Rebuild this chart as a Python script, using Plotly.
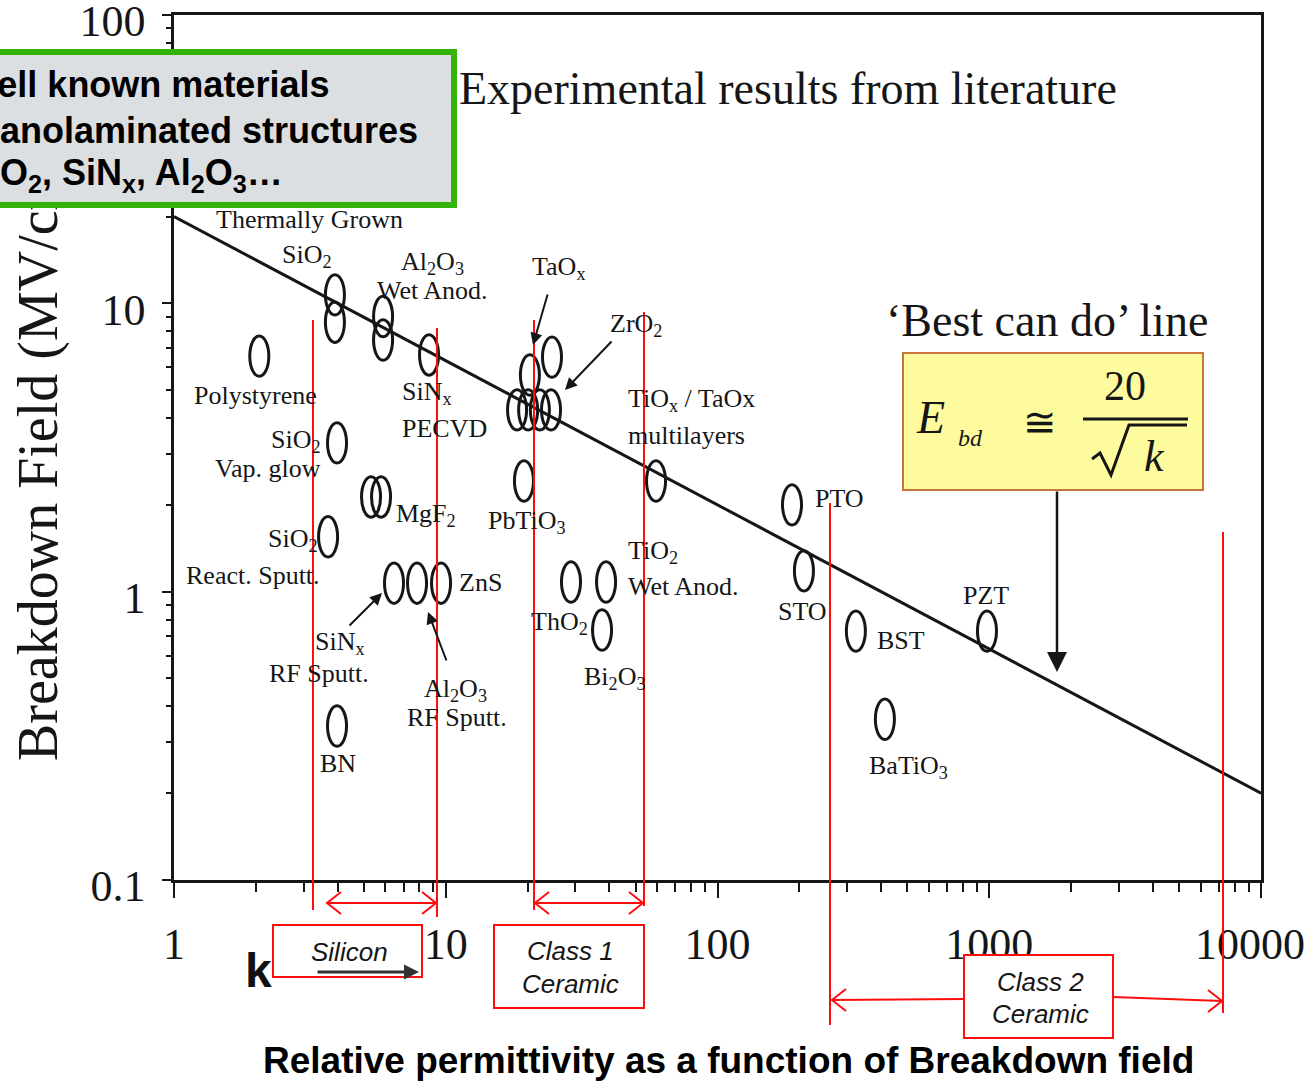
import plotly.graph_objects as go

# ---- measured breakdown field vs. relative permittivity (k) ----
materials = [
    "SiO2 thermal", "SiO2 thermal", "Al2O3 wet anod.", "Al2O3 wet anod.", "SiNx PECVD",
    "Polystyrene", "SiO2 vap. glow", "MgF2", "MgF2", "SiO2 react. sputt.",
    "SiNx RF sputt.", "ZnS", "Al2O3 RF sputt.", "BN",
    "TaOx", "TaOx", "TaOx", "ZrO2", "TaOx", "ZrO2",
    "PbTiO3", "TiOx/TaOx multilayers", "TiO2 wet anod.", "TiO2 wet anod.", "ThO2 / Bi2O3",
    "PTO", "STO", "BST", "PZT", "BaTiO3",
]
k_values = [
    3.91, 3.91, 5.88, 5.88, 8.68,
    2.06, 3.98, 5.31, 5.78, 3.69,
    6.45, 7.84, 9.61, 3.98,
    18.3, 20.1, 22.2, 24.4, 20.4, 24.6,
    19.4, 59.4, 28.9, 38.9, 37.6,
    188, 208, 323, 981, 413,
]
e_bd_values = [
    10.7, 8.6, 9.0, 7.46, 6.62,
    6.56, 3.28, 2.13, 2.13, 1.55,
    1.07, 1.07, 1.07, 0.342,
    4.27, 4.27, 4.27, 4.27, 5.64, 6.51,
    2.42, 2.42, 1.08, 1.08, 0.736,
    2.0, 1.18, 0.73, 0.73, 0.361,
]

# 'Best can do' line: E_bd = 20 / sqrt(k)
best_k = [1, 10000]
best_e = [20, 0.2]

x_tick_vals = [1, 10, 100, 1000, 10000]
# trailing no-break spaces keep the last label inside the page
x_tick_text = ["1", "10", "100", "1000", "10000\u00a0\u00a0"]
y_tick_vals = [0.1, 1, 10, 100]
y_tick_text = ["0.1", "1", "10", "100"]

# ---- page geometry ----
W, H = 1310, 1081
ML, MR, MT, MB = 174, 49, 15, 201
PW, PH = W - ML - MR, H - MT - MB

INK = "#161616"
RED = "#ff0d0d"
SERIF = "Liberation Serif, Times New Roman, serif"
SANS = "Liberation Sans, Arial, sans-serif"

# half-width / half-height of the oval markers, in decades
OVAL_DX = 0.035
OVAL_DY = 0.070


def fx(x):
    return (x - ML) / PW


def fy(y):
    return (H - MB - y) / PH


def note(text, x, y, size, family=SERIF, xanchor="center", color=INK, **kw):
    return dict(text=text, x=fx(x), y=fy(y), xref="paper", yref="paper",
                xanchor=xanchor, yanchor="middle", showarrow=False,
                font=dict(family=family, size=size, color=color), **kw)


def arrow(tail, tip, width=2.0, size=1.2, color=INK, head=2):
    return dict(text="", x=fx(tip[0]), y=fy(tip[1]), xref="paper", yref="paper",
                ax=tail[0] - tip[0], ay=tail[1] - tip[1], axref="pixel", ayref="pixel",
                showarrow=True, arrowhead=head, arrowsize=size, arrowwidth=width,
                arrowcolor=color, standoff=0, startstandoff=0)


def path(points):
    return "M " + " L ".join(f"{fx(x):.5f},{fy(y):.5f}" for x, y in points)


def minor_ticks(lo, hi):
    return [d * 10.0 ** p for p in range(lo, hi) for d in range(2, 10)]


fig = go.Figure()

fig.add_trace(go.Scatter(
    x=best_k, y=best_e, mode="lines",
    line=dict(color=INK, width=3), hoverinfo="skip", showlegend=False,
))

axis_common = dict(
    type="log", showline=True, linecolor=INK, linewidth=2.5, mirror=True,
    showgrid=False, zeroline=False, ticks="outside", tickcolor=INK, tickwidth=2,
    tickfont=dict(family=SERIF, size=44, color=INK), ticklabeloverflow="allow",
    automargin=False,
)

fig.update_xaxes(
    range=[0, 4], tickmode="array", tickvals=x_tick_vals, ticktext=x_tick_text,
    ticklen=15, ticklabelstandoff=8,
    minor=dict(tickmode="array", tickvals=minor_ticks(0, 4), ticks="outside",
               ticklen=9, tickwidth=2, tickcolor=INK, showgrid=False),
    **axis_common,
)
fig.update_yaxes(
    range=[-1, 2], tickmode="array", tickvals=y_tick_vals, ticktext=y_tick_text,
    ticklen=9, ticklabelstandoff=8, ticklabelshift=6,
    minor=dict(tickmode="array", tickvals=minor_ticks(-1, 2), ticks="outside",
               ticklen=5, tickwidth=2, tickcolor=INK, showgrid=False),
    **axis_common,
)

shapes = []

# oval markers, one per measurement, drawn in data coordinates
for k, e in zip(k_values, e_bd_values):
    shapes.append(dict(
        type="circle", xref="x", yref="y", layer="above",
        x0=k / 10 ** OVAL_DX, x1=k * 10 ** OVAL_DX,
        y0=e / 10 ** OVAL_DY, y1=e * 10 ** OVAL_DY,
        line=dict(color=INK, width=3), fillcolor="rgba(0,0,0,0)",
    ))

# ---- material labels ----
labels = [
    ("Thermally Grown", 309, 219, "center"),
    ("SiO<sub>2</sub>", 307, 256, "center"),
    ("Al<sub>2</sub>O<sub>3</sub>", 432, 263, "center"),
    ("Wet Anod.", 432, 290, "center"),
    ("TaO<sub>x</sub>", 558, 268, "center"),
    ("ZrO<sub>2</sub>", 636, 325, "center"),
    ("Polystyrene", 255, 395, "center"),
    ("SiN<sub>x</sub>", 400, 393, "left"),
    ("PECVD", 400, 428, "left"),
    ("SiO<sub>2</sub>", 323, 441, "right"),
    ("Vap. glow", 323, 468, "right"),
    ("MgF<sub>2</sub>", 394, 515, "left"),
    ("PbTiO<sub>3</sub>", 527, 522, "center"),
    ("SiO<sub>2</sub>", 320, 540, "right"),
    ("React. Sputt.", 322, 575, "right"),
    ("ZnS", 457, 582, "left"),
    ("SiN<sub>x</sub>", 340, 643, "center"),
    ("RF Sputt.", 319, 673, "center"),
    ("Al<sub>2</sub>O<sub>3</sub>", 455, 690, "center"),
    ("RF Sputt.", 457, 717, "center"),
    ("BN", 338, 763, "center"),
    ("TiO<sub>x</sub> / TaOx", 626, 400, "left"),
    ("multilayers", 626, 435, "left"),
    ("TiO<sub>2</sub>", 626, 552, "left"),
    ("Wet Anod.", 626, 586, "left"),
    ("ThO<sub>2</sub>", 559, 623, "center"),
    ("Bi<sub>2</sub>O<sub>3</sub>", 615, 678, "center"),
    ("PTO", 813, 498, "left"),
    ("STO", 802, 611, "center"),
    ("BST", 875, 640, "left"),
    ("PZT", 986, 595, "center"),
    ("BaTiO<sub>3</sub>", 908, 767, "center"),
]

annotations = [
    note("Breakdown Field (MV/cm)", 38, 455, 56, textangle=-90),
    note("Experimental results from literature", 788, 88, 46),
    note("\u2018Best can do\u2019 line", 1047, 320, 46),
]
for text, x, y, anchor in labels:
    annotations.append(note(text, x, y, 26, xanchor=anchor))

# pointer arrows
annotations += [
    arrow((548, 293), (533, 345)),
    arrow((613, 340), (565, 390)),
    arrow((348, 627), (382, 593)),
    arrow((447, 662), (428, 612)),
    arrow((1057, 490), (1057, 672), width=2.5, size=1.6),
]

# formula E_bd ~= 20 / sqrt(k)
annotations += [
    note("<i>E</i>", 930, 417, 46),
    note("<i>bd</i>", 970, 438, 24),
    note("\u2245", 1040, 422, 40),
    note("20", 1125, 386, 42),
    note("<i>k</i>", 1154, 456, 44),
]

# class annotations below the axis
annotations += [
    note("<i>Silicon</i>", 349, 952, 26, family=SANS),
    note("<i>Class 1</i>", 570, 951, 26, family=SANS),
    note("<i>Ceramic</i>", 570, 984, 26, family=SANS),
    note("<i>Class 2</i>", 1040, 982, 26, family=SANS),
    note("<i>Ceramic</i>", 1040, 1014, 26, family=SANS),
    note("<b>k</b>", 258, 970, 48, family=SANS, color="#111111"),
    arrow((316, 972), (419, 972), width=3, size=1.0, color="#333333"),
    note("<b>Relative permittivity as a function of Breakdown field</b>",
         728, 1060, 37, family=SANS, color="#000000"),
]

# highlighted callout: panel first, then its three lines on top
annotations.append(dict(
    text=" ", x=fx(-40), y=fy(49), xref="paper", yref="paper",
    xanchor="left", yanchor="top", showarrow=False, width=485, height=147,
    bgcolor="#dcdfe2", bordercolor="#36b30b", borderwidth=6, borderpad=0,
    font=dict(family=SANS, size=12, color="#000000"),
))
for text, x, y in [("Well known materials", -38, 85),
                   ("Nanolaminated structures", -28, 130),
                   ("SiO<sub>2</sub>, SiN<sub>x</sub>, Al<sub>2</sub>O<sub>3</sub>\u2026", -36, 175)]:
    annotations.append(note("<b>" + text + "</b>", x, y, 36, family=SANS,
                            xanchor="left", color="#000000"))

# ---- overlay shapes ----


def add_line(p0, p1, color=RED, width=2):
    shapes.append(dict(type="line", xref="paper", yref="paper", layer="above",
                       x0=fx(p0[0]), y0=fy(p0[1]), x1=fx(p1[0]), y1=fy(p1[1]),
                       line=dict(color=color, width=width)))


def add_path(points, color=RED, width=2):
    shapes.append(dict(type="path", xref="paper", yref="paper", layer="above",
                       path=path(points), line=dict(color=color, width=width)))


def chevron(tip, direction, d=14, h=11):
    x, y = tip
    add_path([(x - direction * d, y - h), (x, y), (x - direction * d, y + h)])


def add_box(x0, y0, x1, y1, fill, edge, width=2):
    shapes.append(dict(type="rect", xref="paper", yref="paper", layer="above",
                       x0=fx(x0), y0=fy(y0), x1=fx(x1), y1=fy(y1),
                       fillcolor=fill, line=dict(color=edge, width=width)))


# vertical class boundaries
for x, top, bottom in [(313, 320, 910), (437, 328, 917), (534, 320, 910),
                       (644, 312, 906), (830, 503, 1025), (1223, 532, 1013)]:
    add_line((x, top), (x, bottom))

# double-headed range arrows
for x0, x1 in [(327, 436), (535, 643)]:
    add_line((x0, 903), (x1, 903))
    chevron((x0, 903), -1)
    chevron((x1, 903), 1)
add_line((832, 1000), (964, 999))
chevron((832, 1000), -1)
add_line((1113, 997), (1222, 1001))
chevron((1222, 1001), 1)

# class labels' boxes
add_box(273, 925, 422, 977, "#ffffff", RED)
add_box(494, 925, 644, 1008, "#ffffff", RED)
add_box(964, 955, 1113, 1038, "#ffffff", RED)

# formula box, fraction bar and radical
add_box(903, 353, 1203, 490, "#fdfb9d", "#c8743e", width=2)
add_line((1083, 419), (1188, 419), color=INK, width=3)
add_path([(1092, 459), (1100, 453), (1111, 475), (1129, 425), (1187, 425)],
         color=INK, width=3)

fig.update_layout(
    width=W, height=H, margin=dict(l=ML, r=MR, t=MT, b=MB, pad=0, autoexpand=False),
    paper_bgcolor="#ffffff", plot_bgcolor="#ffffff",
    showlegend=False, annotations=annotations, shapes=shapes,
)

fig.write_html("out.html")
